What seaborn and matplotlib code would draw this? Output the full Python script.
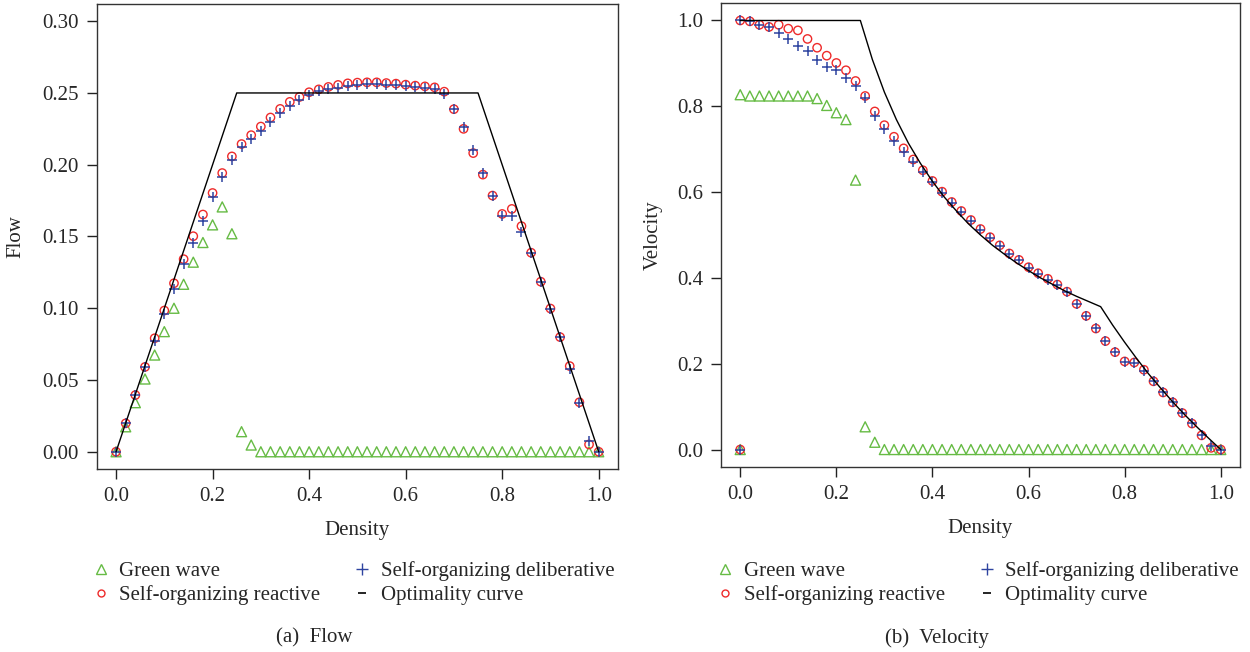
import numpy as np
import pandas as pd
import matplotlib
matplotlib.use("Agg")
import matplotlib.pyplot as plt
from matplotlib.lines import Line2D
from matplotlib.ticker import FormatStrFormatter
import seaborn as sns

# densites simulees (pas de 0.02)
densite = np.round(np.linspace(0, 1, 51), 2)

# Flow - valeurs
flow_green = [0.0, 0.0174, 0.0342, 0.0507, 0.0674, 0.0837, 0.100, 0.1167, 0.1321,
              0.1458, 0.1581, 0.1706, 0.1519, 0.014, 0.0047] + [0.0] * 36
flow_reactive = [0.0, 0.0198, 0.0395, 0.0591, 0.0791, 0.0984, 0.1174, 0.1342, 0.1502,
                 0.1653, 0.1803, 0.1942, 0.2058, 0.2144, 0.2206, 0.2266, 0.2329, 0.2389,
                 0.2438, 0.2472, 0.2505, 0.2525, 0.2542, 0.2556, 0.2567, 0.2572, 0.2574,
                 0.2574, 0.2569, 0.2565, 0.2558, 0.2551, 0.2546, 0.2539, 0.2509, 0.2387,
                 0.2250, 0.2081, 0.1931, 0.1785, 0.1657, 0.1692, 0.1572, 0.1387, 0.1185,
                 0.0998, 0.0799, 0.0597, 0.0345, 0.0051, 0.0]
flow_deliberative = [0.0, 0.0200, 0.0395, 0.0590, 0.0773, 0.0958, 0.1137, 0.1306, 0.1456,
                     0.1606, 0.1775, 0.1912, 0.2032, 0.2120, 0.2178, 0.2238, 0.2300, 0.2359,
                     0.2410, 0.2451, 0.2486, 0.2512, 0.2530, 0.2537, 0.2549, 0.2556, 0.2560,
                     0.2560, 0.2558, 0.2554, 0.2550, 0.2544, 0.2535, 0.2530, 0.2493, 0.2390,
                     0.2260, 0.2100, 0.1940, 0.1785, 0.1646, 0.1646, 0.1530, 0.1387, 0.1185,
                     0.0998, 0.0799, 0.0580, 0.0338, 0.0078, 0.0]

# Velocity - valeurs
vel_green = [0.827, 0.824, 0.824, 0.824, 0.824, 0.824, 0.824, 0.824, 0.818, 0.802,
             0.785, 0.769, 0.628, 0.053, 0.017] + [0.0] * 36
vel_reactive = [1.0, 0.998, 0.990, 0.985, 0.990, 0.981, 0.977, 0.957, 0.9365, 0.918,
                0.901, 0.884, 0.859, 0.824, 0.788, 0.756, 0.729, 0.702, 0.676, 0.651,
                0.626, 0.601, 0.577, 0.556, 0.535, 0.514, 0.495, 0.476, 0.457, 0.442,
                0.425, 0.411, 0.398, 0.3845, 0.368, 0.3395, 0.3116, 0.282, 0.2528, 0.227,
                0.2054, 0.203, 0.186, 0.159, 0.133, 0.110, 0.085, 0.0605, 0.033, 0.004, 0.0]
vel_deliberative = [1.0, 0.998, 0.989, 0.984, 0.971, 0.956, 0.940, 0.929, 0.909, 0.891,
                    0.884, 0.867, 0.847, 0.820, 0.777, 0.746, 0.719, 0.694, 0.670, 0.647,
                    0.623, 0.598, 0.575, 0.553, 0.533, 0.512, 0.493, 0.474, 0.456, 0.441,
                    0.424, 0.410, 0.396, 0.383, 0.367, 0.3395, 0.311, 0.283, 0.253, 0.228,
                    0.204, 0.201, 0.182, 0.160, 0.134, 0.111, 0.086, 0.061, 0.035, 0.008, 0.0]
# route vide : densite 0 -> vitesse 0 (point en bas a gauche)
vel_vide_x = [0.0]
vel_vide_y = [0.0]

# Optimality curve
opt_flow_x = [0.0, 0.25, 0.75, 1.0]
opt_flow_y = [0.0, 0.25, 0.25, 0.0]
opt_vel_x = [0.0, 0.25, 0.275, 0.30, 0.325, 0.35, 0.375, 0.40, 0.425, 0.45, 0.475, 0.50,
             0.525, 0.55, 0.575, 0.60, 0.625, 0.65, 0.675, 0.70, 0.725, 0.75, 0.775, 0.80,
             0.825, 0.85, 0.875, 0.90, 0.925, 0.95, 0.975, 1.0]
opt_vel_y = [1.0, 1.0, 0.909, 0.833, 0.769, 0.714, 0.667, 0.625, 0.588, 0.556, 0.526, 0.50,
             0.476, 0.455, 0.435, 0.417, 0.40, 0.385, 0.370, 0.357, 0.345, 0.333, 0.290, 0.25,
             0.212, 0.176, 0.143, 0.111, 0.081, 0.053, 0.026, 0.0]

noms = ["Green wave", "Self-organizing reactive", "Self-organizing deliberative", "Optimality curve"]
vert = "#66bb44"
rouge = "#ee2a2a"
bleu = "#2e44a0"

sns.set_style("ticks")
plt.rcParams["font.family"] = ["Liberation Serif", "DejaVu Serif"]
plt.rcParams["font.size"] = 15

fig = plt.figure(figsize=(12.5, 6.52), dpi=100)
ax1 = fig.add_axes([0.0774, 0.2807, 0.417, 0.7132])
ax2 = fig.add_axes([0.5768, 0.2842, 0.4152, 0.7107])


def tracer(ax, vg, vr, vd, ox, oy):
    sns.scatterplot(x=densite, y=vg, marker="^", s=52, facecolors="none", edgecolor=vert,
                    linewidth=1.0, ax=ax, legend=False, zorder=3)
    sns.scatterplot(x=densite, y=vr, marker="o", s=36, facecolors="none", edgecolor=rouge,
                    linewidth=1.0, ax=ax, legend=False, zorder=4)
    sns.scatterplot(x=densite, y=vd, marker="+", s=60, color=bleu,
                    linewidth=1.1, ax=ax, legend=False, zorder=5)
    sns.lineplot(x=ox, y=oy, color="black", linewidth=1.0, ax=ax, sort=False,
                 estimator=None, zorder=6)


tracer(ax1, flow_green, flow_reactive, flow_deliberative, opt_flow_x, opt_flow_y)
tracer(ax2, vel_green, vel_reactive, vel_deliberative, opt_vel_x, opt_vel_y)

# point a densite nulle (vitesse 0)
sns.scatterplot(x=vel_vide_x, y=vel_vide_y, marker="^", s=52, facecolors="none",
                edgecolor=vert, linewidth=1.0, ax=ax2, legend=False, zorder=3)
sns.scatterplot(x=vel_vide_x, y=vel_vide_y, marker="o", s=36, facecolors="none",
                edgecolor=rouge, linewidth=1.0, ax=ax2, legend=False, zorder=4)
sns.scatterplot(x=vel_vide_x, y=vel_vide_y, marker="+", s=60, color=bleu,
                linewidth=1.1, ax=ax2, legend=False, zorder=5)

ax1.set_xlim(-0.04, 1.04)
ax1.set_ylim(-0.012, 0.312)
ax1.set_yticks([0.0, 0.05, 0.10, 0.15, 0.20, 0.25, 0.30])
ax1.yaxis.set_major_formatter(FormatStrFormatter("%.2f"))
ax1.set_ylabel("Flow", labelpad=12)

ax2.set_xlim(-0.04, 1.04)
ax2.set_ylim(-0.04, 1.04)
ax2.set_yticks([0.0, 0.2, 0.4, 0.6, 0.8, 1.0])
ax2.yaxis.set_major_formatter(FormatStrFormatter("%.1f"))
ax2.set_ylabel("Velocity", labelpad=10)

for ax in [ax1, ax2]:
    ax.set_xticks([0.0, 0.2, 0.4, 0.6, 0.8, 1.0])
    ax.xaxis.set_major_formatter(FormatStrFormatter("%.1f"))
    ax.set_xlabel("Density", labelpad=11)
    ax.tick_params(direction="out", length=7, width=1, labelsize=15, pad=6, color="#222222")
    for sp in ax.spines.values():
        sp.set_visible(True)
        sp.set_color("#333333")
        sp.set_linewidth(1.0)

# legendes sous chaque graphique
poignees = [
    Line2D([], [], marker="^", ls="none", mfc="none", mec=vert, ms=7, mew=1),
    Line2D([], [], marker="o", ls="none", mfc="none", mec=rouge, ms=5, mew=1),
    Line2D([], [], marker="+", ls="none", color=bleu, ms=8, mew=1),
    Line2D([], [], marker="_", ls="none", color="black", ms=6, mew=1.2),
]
for x0 in [92.4, 716.7]:
    fig.legend(poignees, noms, loc="center left", bbox_to_anchor=(x0 / 1250, 1 - 583.5 / 652),
               ncol=2, frameon=False, fontsize=15, handlelength=0.8, handletextpad=0.5,
               columnspacing=1.6, labelspacing=0.2, borderpad=0, borderaxespad=0)

fig.text(314 / 1250, 1 - 638 / 652, "(a)  Flow", ha="center", va="center", fontsize=15)
fig.text(937 / 1250, 1 - 638 / 652, "(b)  Velocity", ha="center", va="center", fontsize=15)

plt.savefig("out.png", dpi=100)
